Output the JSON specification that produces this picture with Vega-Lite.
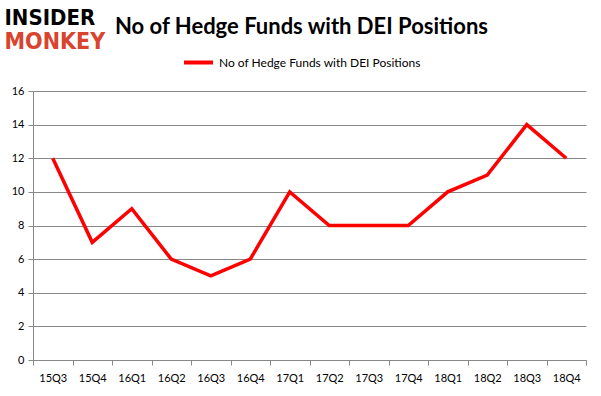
{
  "$schema": "https://vega.github.io/schema/vega-lite/v6.json",
  "width": 553,
  "height": 269,
  "autosize": {"type": "none"},
  "padding": {"left": 33, "top": 91, "right": 15, "bottom": 36},
  "background": "white",
  "title": {
    "text": "No of Hedge Funds with DEI Positions",
    "anchor": "start",
    "frame": "group",
    "dx": 82,
    "offset": 0,
    "dy": 50,
    "baseline": "alphabetic",
    "font": "Lato",
    "fontSize": 22,
    "fontWeight": "bold",
    "color": "#000000"
  },
  "data": {
    "values": [
      {"quarter": "15Q3", "funds": 12},
      {"quarter": "15Q4", "funds": 7},
      {"quarter": "16Q1", "funds": 9},
      {"quarter": "16Q2", "funds": 6},
      {"quarter": "16Q3", "funds": 5},
      {"quarter": "16Q4", "funds": 6},
      {"quarter": "17Q1", "funds": 10},
      {"quarter": "17Q2", "funds": 8},
      {"quarter": "17Q3", "funds": 8},
      {"quarter": "17Q4", "funds": 8},
      {"quarter": "18Q1", "funds": 10},
      {"quarter": "18Q2", "funds": 11},
      {"quarter": "18Q3", "funds": 14},
      {"quarter": "18Q4", "funds": 12}
    ]
  },
  "mark": {"type": "line", "strokeWidth": 3.5, "strokeJoin": "miter"},
  "encoding": {
    "x": {
      "field": "quarter",
      "type": "ordinal",
      "sort": null,
      "scale": {"type": "band", "paddingInner": 0, "paddingOuter": 0},
      "axis": {
        "title": "MONKEY",
        "titleX": -29,
        "titleY": -330,
        "titleAlign": "left",
        "titleBaseline": "top",
        "titleAnchor": null,
        "titleFont": "DejaVu Sans Condensed",
        "titleFontSize": 23,
        "titleFontWeight": 900,
        "titleColor": "#d9442e",
        "labelAngle": 0,
        "tickBand": "extent",
        "tickSize": 5,
        "labelPadding": 7,
        "labelFont": "Lato",
        "labelFontSize": 11,
        "labelColor": "#000000",
        "domainColor": "#888888",
        "tickColor": "#888888",
        "grid": false
      }
    },
    "y": {
      "field": "funds",
      "type": "quantitative",
      "scale": {"domain": [0, 16]},
      "axis": {
        "values": [0, 2, 4, 6, 8, 10, 12, 14, 16],
        "title": "INSIDER",
        "titleX": -29,
        "titleY": -84,
        "titleAngle": 0,
        "titleAlign": "left",
        "titleBaseline": "top",
        "titleAnchor": null,
        "titleFont": "DejaVu Sans Condensed",
        "titleFontSize": 22,
        "titleFontWeight": 900,
        "titleColor": "#000000",
        "tickSize": 5,
        "labelPadding": 4,
        "labelFont": "Lato",
        "labelFontSize": 11,
        "labelColor": "#000000",
        "domainColor": "#888888",
        "tickColor": "#888888",
        "grid": true,
        "gridColor": "#888888",
        "gridOpacity": 1
      }
    },
    "color": {
      "datum": "No of Hedge Funds with DEI Positions",
      "type": "nominal",
      "scale": {"range": ["#ff0000"]},
      "legend": {
        "title": null,
        "orient": "none",
        "legendX": 149,
        "legendY": -45,
        "direction": "horizontal",
        "symbolType": "stroke",
        "symbolSize": 841,
        "symbolStrokeWidth": 4,
        "labelFont": "Lato",
        "labelFontSize": 12,
        "labelLimit": 400,
        "labelColor": "#000000",
        "labelOffset": 4
      }
    }
  },
  "config": {
    "view": {"stroke": null}
  }
}
